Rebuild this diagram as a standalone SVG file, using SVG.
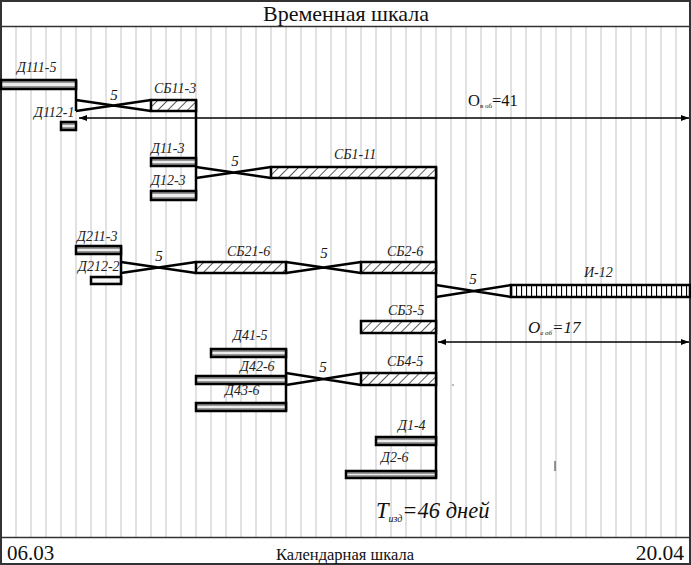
<svg xmlns="http://www.w3.org/2000/svg" width="691" height="565" viewBox="0 0 691 565">
<style>
.lbl{font-family:"Liberation Serif","DejaVu Serif",serif;font-style:italic;font-size:14px;fill:#222}
.num{font-family:"Liberation Serif","DejaVu Serif",serif;font-style:italic;font-size:15px;fill:#111;text-anchor:middle}
.txt{font-family:"Liberation Serif","DejaVu Serif",serif;fill:#111}
.bar{stroke:#000;stroke-width:2.5}
.d{fill:url(#dg)}
.d2{fill:url(#dg2)}
.sb{fill:url(#hatch)}
.i{fill:url(#vhatch)}
.ln{fill:none;stroke:#000;stroke-width:2.5;stroke-linejoin:miter}
.arr{fill:none;stroke:#000;stroke-width:1.4}
.grid{fill:none;stroke:#c4c4c4;stroke-width:1}
</style>
<defs>
<linearGradient id="dg" x1="0" y1="0" x2="0" y2="1">
<stop offset="0" stop-color="#8a8a8a"/><stop offset="0.38" stop-color="#9c9c9c"/><stop offset="0.38" stop-color="#ececec"/><stop offset="0.62" stop-color="#ececec"/><stop offset="0.62" stop-color="#9c9c9c"/><stop offset="1" stop-color="#8a8a8a"/>
</linearGradient>
<linearGradient id="dg2" x1="0" y1="0" x2="0" y2="1">
<stop offset="0" stop-color="#bdbdbd"/><stop offset="0.35" stop-color="#f4f4f4"/><stop offset="0.65" stop-color="#f4f4f4"/><stop offset="1" stop-color="#bdbdbd"/>
</linearGradient>
<pattern id="hatch" patternUnits="userSpaceOnUse" width="7" height="7" patternTransform="rotate(45)">
<rect width="7" height="7" fill="#fff"/><line x1="0" y1="0" x2="0" y2="7" stroke="#000" stroke-width="1.3"/>
</pattern>
<pattern id="vhatch" patternUnits="userSpaceOnUse" x="1" width="5" height="10">
<rect width="5" height="10" fill="#fff"/><line x1="0.5" y1="0" x2="0.5" y2="10" stroke="#000" stroke-width="1.2"/>
</pattern>
<marker id="ah" viewBox="0 0 8 6" refX="8" refY="3" markerWidth="8" markerHeight="6" markerUnits="userSpaceOnUse" orient="auto-start-reverse">
<path d="M0,0 L8,3 L0,6 z" fill="#000"/>
</marker>
</defs>
<rect x="0" y="0" width="691" height="565" fill="#fff"/>
<g id="grid">
<path class="grid" d="M16,27V537M31,27V537M46,27V537M61,27V537M76,27V537M91,27V537M106,27V537M121,27V537M136,27V537M151,27V537M166,27V537M181,27V537M196,27V537M211,27V537M226,27V537M241,27V537M256,27V537M271,27V537M286,27V537M301,27V537M316,27V537M331,27V537M346,27V537M361,27V537M376,27V537M391,27V537M406,27V537M421,27V537M436,27V537M451,27V537M466,27V537M481,27V537M496,27V537M511,27V537M526,27V537M541,27V537M556,27V537M571,27V537M586,27V537M601,27V537M616,27V537M631,27V537M646,27V537M661,27V537M676,27V537"/>
</g>
<g id="frame">
<rect x="1" y="1" width="689" height="563" fill="none" stroke="#333" stroke-width="2"/>
<line x1="1" y1="26.5" x2="690" y2="26.5" stroke="#333" stroke-width="1.6"/>
<line x1="1" y1="537.5" x2="690" y2="537.5" stroke="#333" stroke-width="1.6"/>
<text class="txt" x="346" y="21" font-size="22" text-anchor="middle">Временная шкала</text>
<text class="txt" x="7" y="560" font-size="21">06.03</text>
<text class="txt" x="345" y="560" font-size="16.5" text-anchor="middle">Календарная шкала</text>
<text class="txt" x="684" y="560" font-size="21.5" text-anchor="end">20.04</text>
</g>
<g id="connectors">
<path class="ln" d="M76,80V111M196,100V200M121,246V284M286,349V411M436,167V478"/>
<path class="ln" d="M76,100L151,111M76,111L151,100"/>
<path class="ln" d="M196,167L271,178M196,178L271,167"/>
<path class="ln" d="M121,262L196,273M121,273L196,262"/>
<path class="ln" d="M286,262L361,273M286,273L361,262"/>
<path class="ln" d="M436,285L511,297M436,297L511,285"/>
<path class="ln" d="M286,373L361,385M286,385L361,373"/>
<text class="num" x="114" y="100">5</text>
<text class="num" x="235" y="166">5</text>
<text class="num" x="159" y="261">5</text>
<text class="num" x="324" y="258">5</text>
<text class="num" x="473" y="284">5</text>
<text class="num" x="323" y="372">5</text>
<line class="arr" x1="79" y1="118" x2="689" y2="118" marker-start="url(#ah)" marker-end="url(#ah)"/>
<line class="arr" x1="438" y1="342" x2="689" y2="342" marker-start="url(#ah)" marker-end="url(#ah)"/>
<text class="txt" x="468" y="106" font-size="16.5">О<tspan font-size="7" dy="2">в об</tspan><tspan dy="-2">=41</tspan></text>
<text class="txt" x="528" y="333" font-size="17" font-style="italic">О<tspan font-size="7" dy="2">в об</tspan><tspan dy="-2">=17</tspan></text>
</g>
<g id="D111-5"><rect class="bar d" x="1" y="80" width="75" height="9"/><text class="lbl" x="17" y="72">Д111-5</text></g>
<g id="D112-1"><rect class="bar d" x="61" y="122" width="15" height="8"/><text class="lbl" x="34" y="117">Д112-1</text></g>
<g id="SB11-3"><rect class="bar sb" x="151" y="100" width="45" height="11"/><text class="lbl" x="154" y="93">СБ11-3</text></g>
<g id="D11-3"><rect class="bar d" x="151" y="158" width="45" height="8"/><text class="lbl" x="151" y="153">Д11-3</text></g>
<g id="D12-3"><rect class="bar d" x="151" y="191" width="45" height="9"/><text class="lbl" x="151" y="185">Д12-3</text></g>
<g id="SB1-11"><rect class="bar sb" x="271" y="167" width="165" height="11"/><text class="lbl" x="334" y="159">СБ1-11</text></g>
<g id="D211-3"><rect class="bar d" x="76" y="246" width="45" height="8"/><text class="lbl" x="77" y="241">Д211-3</text></g>
<g id="D212-2"><rect class="bar d2" x="91" y="277" width="30" height="7"/><text class="lbl" x="78" y="271">Д212-2</text></g>
<g id="SB21-6"><rect class="bar sb" x="196" y="262" width="90" height="11"/><text class="lbl" x="227" y="256">СБ21-6</text></g>
<g id="SB2-6"><rect class="bar sb" x="361" y="262" width="75" height="11"/><text class="lbl" x="387" y="256">СБ2-6</text></g>
<g id="SB3-5"><rect class="bar sb" x="361" y="321" width="75" height="12"/><text class="lbl" x="388" y="315">СБ3-5</text></g>
<g id="I-12"><rect class="bar i" x="511" y="285" width="179" height="12"/><text class="lbl" x="584" y="277" font-size="17.5">И-12</text></g>
<g id="D41-5"><rect class="bar d" x="211" y="349" width="75" height="8"/><text class="lbl" x="233" y="340">Д41-5</text></g>
<g id="D42-6"><rect class="bar d" x="196" y="376" width="90" height="8"/><text class="lbl" x="240" y="371">Д42-6</text></g>
<g id="SB4-5"><rect class="bar sb" x="361" y="373" width="75" height="12"/><text class="lbl" x="387" y="366">СБ4-5</text></g>
<g id="D43-6"><rect class="bar d" x="196" y="403" width="90" height="8"/><text class="lbl" x="225" y="395">Д43-6</text></g>
<g id="D1-4"><rect class="bar d" x="376" y="437" width="60" height="8"/><text class="lbl" x="398" y="430">Д1-4</text></g>
<g id="D2-6"><rect class="bar d" x="346" y="471" width="90" height="7"/><text class="lbl" x="381" y="462">Д2-6</text></g>
<g id="T-total"><text class="txt" x="376" y="518" font-size="22.5" font-style="italic">T<tspan font-size="10" dy="4">изд</tspan><tspan dy="-4">=46 дней</tspan></text></g>
<g id="marks"><line x1="555" y1="461" x2="555" y2="471" stroke="#555" stroke-width="1.2"/><circle cx="453" cy="385" r="0.8" fill="#666"/></g>
</svg>
